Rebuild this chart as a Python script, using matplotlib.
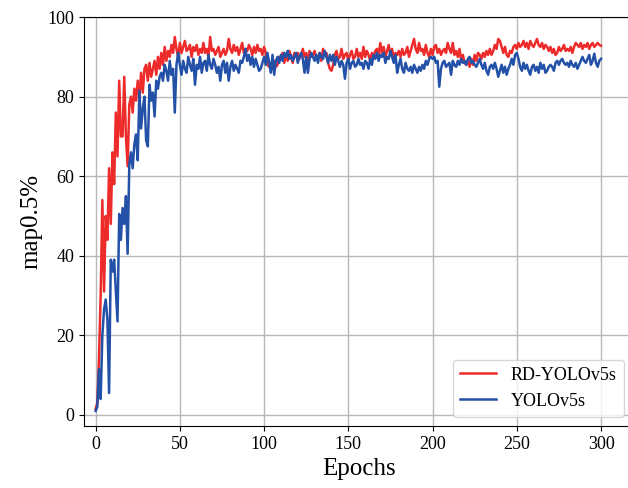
import numpy as np
import matplotlib
matplotlib.use('Agg')
import matplotlib.pyplot as plt

plt.rcParams['font.family'] = ['Liberation Serif', 'DejaVu Serif']

# mAP@0.5 (%) per epoch
rd_yolo = [
    1.5, 3.0, 14.0, 30.0, 54.0, 31.0, 50.0, 44.0, 62.0, 48.0,
    66.0, 58.0, 76.0, 65.0, 84.0, 70.0, 70.0, 85.0, 70.0, 62.5,
    78.0, 80.0, 76.0, 82.0, 79.0, 84.0, 80.0, 86.0, 81.0, 87.0,
    88.0, 84.0, 88.5, 85.0, 87.0, 89.0, 85.5, 90.0, 87.0, 91.0,
    88.0, 92.5, 89.0, 91.5, 90.0, 93.0, 91.0, 95.0, 92.0, 90.0,
    93.5, 91.0, 92.5, 94.0, 91.5, 92.0, 93.0, 90.0, 92.5, 91.5,
    93.0, 90.5, 92.0, 91.0, 93.5, 91.0, 92.0, 90.0, 95.0, 91.5,
    92.0, 90.5, 91.5, 92.5, 90.0, 91.0, 92.0, 90.5, 91.5, 94.5,
    92.0, 91.0, 93.0, 91.5, 92.5, 90.5, 92.0, 93.5, 91.0, 92.0,
    91.5, 93.0, 92.0, 90.5, 92.5, 91.0, 93.0, 91.5, 92.0, 90.5,
    92.5, 91.0, 88.0, 87.5, 88.5, 87.0, 89.0, 87.5, 88.0, 90.0,
    89.5, 91.0, 88.5, 90.5, 89.0, 91.5, 90.0, 88.5, 91.0, 90.0,
    91.0, 89.5, 90.5, 92.0, 90.0, 91.0, 89.0, 91.5, 90.0, 90.5,
    91.5, 89.5, 90.0, 91.0, 89.0, 92.0, 90.5, 91.0, 88.5, 87.0,
    86.5, 88.0, 90.5, 91.5, 89.5, 90.0, 92.0, 89.5, 90.5, 91.0,
    89.0, 90.5, 91.5, 89.5, 90.0, 92.0, 90.0, 91.0, 89.5, 92.5,
    90.0, 91.5, 90.5, 89.0, 91.0, 90.0, 91.5, 92.0, 90.5, 93.5,
    91.0, 92.5, 90.0, 91.5, 93.0, 90.5, 92.0, 89.5, 91.0, 90.5,
    91.5, 90.0, 92.0, 90.5, 91.0, 92.5, 90.0, 91.5, 93.0, 94.5,
    92.0, 91.0, 93.5, 91.5, 92.0, 90.5, 93.0, 91.0, 90.0, 92.0,
    90.5, 92.5, 93.0, 91.0, 92.0, 90.5, 91.5, 92.0, 91.0, 93.5,
    92.0, 91.0, 93.5, 90.5, 91.5, 90.0, 92.0, 89.0, 90.5, 88.5,
    88.0, 89.0, 87.5, 89.5, 88.0, 90.5, 89.0, 91.0, 90.5, 89.5,
    91.0, 90.0, 91.5, 90.5, 92.0, 90.5, 91.5, 93.0, 92.0, 94.5,
    94.0, 92.5, 91.0, 92.5, 90.5, 90.0, 91.5, 91.0, 92.5, 93.0,
    92.0, 93.5, 92.5, 93.0, 94.0, 92.5, 93.5, 92.0, 94.0, 93.0,
    92.5, 93.5, 94.5, 93.0, 92.5, 93.5, 92.0, 93.0, 92.5, 91.5,
    92.5, 91.0, 92.0, 90.5, 91.0, 92.5, 91.5, 92.0, 93.0, 91.5,
    92.0, 91.5, 92.5, 91.0, 92.5, 93.5, 93.0, 92.5, 93.5, 92.0,
    93.0, 92.5, 93.5, 92.0, 93.0, 93.5, 92.5, 93.0, 93.5, 93.0,
    92.8,
]

yolo = [
    1.0, 2.0, 11.5, 4.0, 20.0, 26.5, 29.0, 24.0, 5.5, 39.0,
    36.0, 39.0, 31.0, 23.5, 50.5, 44.0, 52.0, 48.0, 55.0, 40.5,
    63.0, 66.0, 62.0, 68.0, 70.5, 64.0, 81.5, 72.0, 77.0, 80.0,
    69.0, 67.5, 83.0, 79.0, 81.0, 75.0, 84.0, 82.0, 85.0, 86.0,
    84.0, 88.0, 86.5, 84.0, 89.0, 85.5, 87.0, 76.0, 88.0, 91.0,
    88.0, 85.5, 89.0, 87.0, 86.0, 90.0, 88.0, 86.5, 89.5, 83.0,
    88.0, 87.0, 90.0, 86.0, 88.5, 89.0, 86.5, 90.5, 88.0, 87.0,
    89.5, 88.0, 86.0, 87.5, 84.0, 88.0, 89.0, 86.0, 88.5, 84.0,
    87.5, 89.0, 86.5, 88.0, 87.0, 86.0, 89.0, 88.5, 90.0, 92.0,
    89.0, 90.5, 88.0, 90.0, 87.5, 89.5, 88.0, 86.5, 87.0, 88.5,
    90.0, 88.0, 91.0, 88.5, 86.0, 90.5, 85.5, 89.0, 90.0, 88.5,
    90.5, 89.0, 91.0, 90.0, 91.5, 89.5, 90.5, 89.0, 90.0, 91.0,
    88.5, 90.0, 91.0, 89.5, 86.0, 90.0, 86.0, 89.5, 91.0, 90.0,
    89.0, 90.5, 88.5, 91.0, 90.0, 89.5, 91.5, 90.0, 88.5, 90.5,
    89.0, 90.5, 88.0, 90.0, 89.0, 87.5, 89.0, 88.0, 84.5, 88.5,
    89.5, 87.0, 88.5, 89.0, 87.5, 88.0, 89.5, 88.0, 88.5, 87.0,
    89.0, 88.5, 87.0, 89.5, 88.0, 90.5, 89.5, 91.0, 89.0, 90.5,
    90.0, 91.0, 88.5, 90.0, 89.5, 91.5, 90.0, 88.5, 90.5, 86.0,
    88.0, 89.5, 87.0, 86.0, 88.5, 87.0, 86.5, 87.5, 86.0, 88.0,
    87.0, 86.0, 87.5, 86.5, 88.0, 87.0, 89.0, 88.0, 89.5, 90.0,
    89.5, 90.0, 88.5, 89.0, 82.5, 87.0, 88.5, 89.0, 87.5, 88.0,
    88.5, 85.5, 89.0, 88.0, 87.5, 89.0, 88.0, 89.5, 88.5, 89.0,
    88.0, 89.5, 90.0, 88.5, 89.0, 88.0, 87.5, 88.5, 89.5, 88.0,
    87.0, 88.5, 86.5, 85.5, 87.5, 88.0, 87.0, 88.5, 87.0, 85.0,
    86.5, 88.0, 86.0, 87.5, 85.5, 87.0, 88.0, 89.5, 88.0, 90.5,
    91.0, 89.5, 87.5, 86.5, 88.5, 87.0, 88.0, 86.5, 85.5, 87.5,
    88.0, 86.5, 87.5, 86.0, 88.5, 87.0, 88.0, 86.0, 86.5, 87.5,
    88.0, 87.5, 86.5, 88.5, 89.0, 88.0, 89.0, 89.5, 88.5, 88.0,
    88.5, 87.5, 89.0, 88.0, 87.5, 88.5, 87.0, 88.0, 89.0, 90.0,
    89.0, 88.5, 89.5, 90.5, 88.0, 89.0, 90.8, 88.5, 87.5, 89.0,
    89.5,
]

epochs = np.arange(len(rd_yolo))

fig = plt.figure(figsize=(6.28, 4.88), dpi=100)
ax = fig.add_axes([0.134, 0.127, 0.874, 0.838])

ax.plot(epochs, rd_yolo, color='#ee2b2b', lw=1.8, label='RD-YOLOv5s')
ax.plot(epochs, yolo, color='#2351a8', lw=1.8, label='YOLOv5s')

ax.set_xlim(-6.8, 319)
ax.set_ylim(-2.8, 100)
ax.set_xticks(np.arange(0, 301, 50))
ax.set_yticks(np.arange(0, 101, 20))
ax.tick_params(labelsize=13)
ax.grid(True, color='#b8b8b8', lw=1.0)
ax.set_axisbelow(True)
ax.spines['right'].set_visible(False)

ax.set_xlabel('Epochs', fontsize=18)
ax.set_ylabel('map0.5%', fontsize=18)
ax.legend(loc='lower right', fontsize=13)

plt.savefig('out.png', dpi=100)
